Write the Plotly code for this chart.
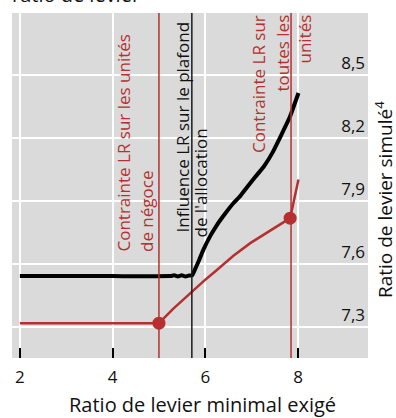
import plotly.graph_objects as go

# ---- data ----
black_x = [2.0, 4.0, 5.25, 5.33, 5.41, 5.49, 5.57, 5.65, 5.72, 5.78, 5.87, 5.96, 6.1, 6.25, 6.43, 6.61, 6.76, 6.90, 7.08, 7.26, 7.45, 7.62, 7.83, 8.01]
black_y = [7.542, 7.542, 7.542, 7.546, 7.540, 7.546, 7.540, 7.545, 7.547, 7.575, 7.62, 7.668, 7.73, 7.785, 7.84, 7.89, 7.925, 7.965, 8.015, 8.063, 8.13, 8.205, 8.303, 8.414]

red_x = [2.0, 5.0, 5.3, 5.67, 6.0, 6.25, 6.6, 6.97, 7.4, 7.83, 8.01]
red_y = [7.318, 7.318, 7.385, 7.46, 7.525, 7.571, 7.638, 7.699, 7.76, 7.818, 8.002]

red_mark_x = [5.0, 7.83]
red_mark_y = [7.318, 7.818]

thresholds = [5.0, 5.71, 7.85]
threshold_colors = ["#b5302f", "#1a1a1a", "#b5302f"]

x_ticks = [2, 4, 6, 8]
y_ticks = [7.3, 7.6, 7.9, 8.2, 8.5]
y_ticktext = ["7,3", "7,6", "7,9", "8,2", "8,5"]

RED = "#b5302f"
FONT = "Open Sans"

fig = go.Figure()
fig.add_trace(go.Scatter(x=black_x, y=black_y, mode="lines",
                         line=dict(color="#000000", width=4, shape="spline", smoothing=0.3),
                         showlegend=False, hoverinfo="skip"))
fig.add_trace(go.Scatter(x=red_x, y=red_y, mode="lines",
                         line=dict(color=RED, width=2.5),
                         showlegend=False, hoverinfo="skip"))
fig.add_trace(go.Scatter(x=red_mark_x, y=red_mark_y, mode="markers",
                         marker=dict(color=RED, size=13),
                         showlegend=False, hoverinfo="skip"))

for xv, c in zip(thresholds, threshold_colors):
    fig.add_shape(type="line", xref="x", yref="paper", x0=xv, x1=xv, y0=0, y1=1,
                  line=dict(color=c, width=1.5), layer="above")

def vtext(text, x, y, color, yanchor):
    fig.add_annotation(text=text, x=x, y=y, xref="x", yref="y", textangle=-90,
                       showarrow=False, xanchor="center", yanchor=yanchor,
                       font=dict(family=FONT, size=17, color=color))

vtext("Contrainte LR sur les unités", 4.246, 7.652, RED, "bottom")
vtext("de négoce", 4.743, 7.645, RED, "bottom")
vtext("Influence LR sur le plafond", 5.498, 7.738, "#111111", "bottom")
vtext("de l'allocation", 5.886, 7.714, "#111111", "bottom")
vtext("Contrainte LR sur", 7.137, 8.795, RED, "top")
vtext("toutes les", 7.655, 8.795, RED, "top")
vtext("unités", 8.13, 8.795, RED, "top")

# axis titles
fig.add_annotation(text="Ratio de levier minimal exigé", x=0.5365, y=-0.136,
                   xref="paper", yref="paper", showarrow=False, xanchor="center", yanchor="middle",
                   font=dict(family=FONT, size=20, color="#111111"))
fig.add_annotation(text="Ratio de levier simulé<sup>4</sup>", x=1.045, y=0.458,
                   xref="paper", yref="paper", showarrow=False, textangle=-90,
                   xanchor="center", yanchor="middle",
                   font=dict(family=FONT, size=19, color="#111111"))
fig.add_annotation(text="ratio de levier", x=-2/356, y=1.0087, xref="paper", yref="paper",
                   showarrow=False, xanchor="left", yanchor="bottom",
                   font=dict(family=FONT, size=20, color="#111111"))

fig.update_layout(
    width=396, height=418,
    margin=dict(l=12, r=28, t=13, b=60),
    paper_bgcolor="white", plot_bgcolor="#dadada",
    font=dict(family=FONT, size=17, color="#111111"),
    xaxis=dict(range=[1.83, 9.51], tickvals=x_ticks, ticks="inside", ticklen=10,
               tickcolor="#000000", tickwidth=1.5, showgrid=True, gridcolor="white",
               gridwidth=1.5, zeroline=False, showline=False, ticklabelstandoff=7,
               tickfont=dict(family=FONT, size=17, color="#111111")),
    yaxis=dict(range=[7.152, 8.795], tickvals=y_ticks, ticktext=y_ticktext, side="right",
               ticklabelposition="inside top", ticks="", showgrid=True, gridcolor="white",
               gridwidth=1.5, zeroline=False, showline=False,
               tickfont=dict(family=FONT, size=17, color="#111111")),
)

fig.write_html("out.html", config={"displayModeBar": False},
               post_script="document.body.style.margin='0';")
